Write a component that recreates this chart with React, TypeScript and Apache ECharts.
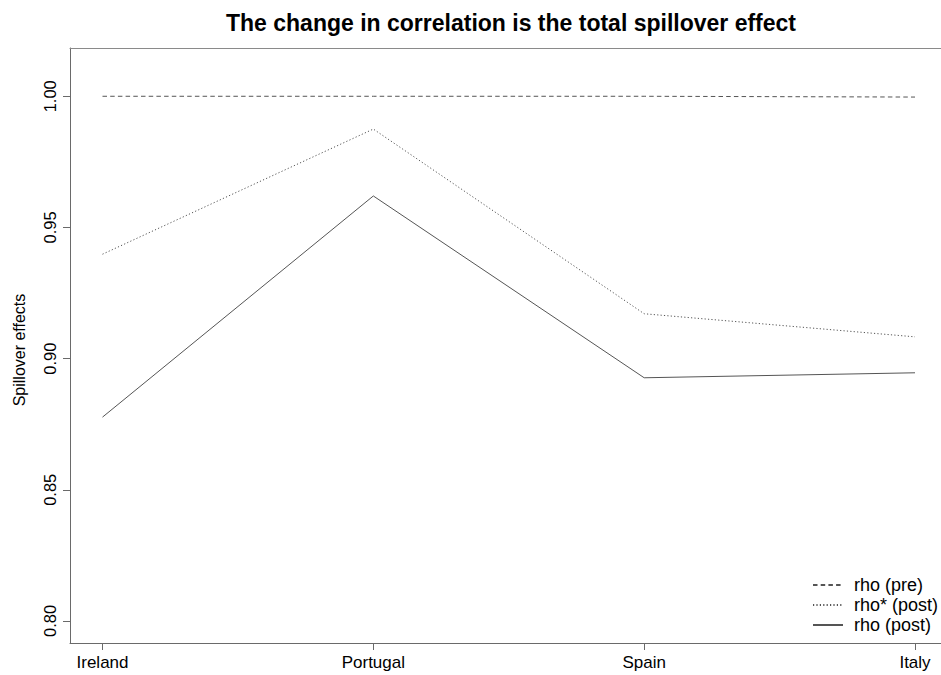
import React, { useEffect, useRef } from "react";
import * as echarts from "echarts";

const countries = ["Ireland", "Portugal", "Spain", "Italy"];
const rhoPre = [1.0, 1.0, 1.0, 0.9997];
const rhoStarPost = [0.9398, 0.9875, 0.9171, 0.9083];
const rhoPost = [0.8777, 0.962, 0.8927, 0.8946];
const yTicks = [0.8, 0.85, 0.9, 0.95, 1.0];
const seriesNames = ["rho (pre)", "rho* (post)", "rho (post)"];
const titleText = "The change in correlation is the total spillover effect";
const yAxisTitle = "Spillover effects";

const FONT = "'Liberation Sans', Arial, Helvetica, sans-serif";
const AXIS_COLOR = "#6a6a6a";
const LINE_COLOR = "#555555";

export default function App() {
  const ref = useRef<HTMLDivElement>(null);
  useEffect(() => {
    if (!ref.current) return;
    const chart = echarts.init(ref.current, null, { renderer: "svg" });
    const xVals = countries.map((_, i) => i + 1);
    const mk = (arr: number[]) => arr.map((v, i) => [xVals[i], v]);
    const xMin = 0.88;
    const xMax = 4.096;
    const yMin = 0.7916;
    const yMax = 1.0184;
    const option: any = {
      animation: false,
      backgroundColor: "#ffffff",
      textStyle: { fontFamily: FONT },
      title: {
        text: titleText,
        left: 506,
        textAlign: "center",
        top: 6,
        textStyle: { fontFamily: FONT, fontSize: 23, fontWeight: "bold", color: "#000" },
      },
      grid: { left: 70, top: 48, right: 0, bottom: 32, containLabel: false },
      xAxis: [
        {
          type: "value",
          min: xMin,
          max: xMax,
          position: "bottom",
          splitLine: { show: false },
          axisLine: { show: true, lineStyle: { color: AXIS_COLOR, width: 1 } },
          axisTick: {
            show: true,
            length: 7,
            customValues: xVals,
            lineStyle: { color: AXIS_COLOR },
          },
          axisLabel: {
            show: true,
            customValues: xVals,
            margin: 11,
            fontSize: 17,
            color: "#000",
            fontFamily: FONT,
            formatter: (v: number) => countries[Math.round(v) - 1] ?? "",
          },
        },
        {
          type: "value",
          min: xMin,
          max: xMax,
          position: "top",
          splitLine: { show: false },
          axisLine: { show: true, onZero: false, lineStyle: { color: "#8a8a8a", width: 1 } },
          axisTick: { show: false },
          axisLabel: { show: false },
        },
      ],
      yAxis: {
        type: "value",
        min: yMin,
        max: yMax,
        splitLine: { show: false },
        axisLine: { show: true, lineStyle: { color: AXIS_COLOR, width: 1 } },
        axisTick: {
          show: true,
          length: 7,
          customValues: yTicks,
          lineStyle: { color: AXIS_COLOR },
        },
        axisLabel: {
          show: true,
          customValues: yTicks,
          rotate: 90,
          margin: 12,
          fontSize: 16.5,
          color: "#000",
          fontFamily: FONT,
          formatter: (v: number) => v.toFixed(2),
        },
      },
      legend: {
        show: true,
        orient: "vertical",
        left: 812,
        top: 576,
        padding: 0,
        itemWidth: 30,
        itemHeight: 14,
        itemGap: 2,
        itemStyle: { opacity: 0 },
        textStyle: {
          fontFamily: FONT,
          fontSize: 18,
          lineHeight: 14,
          color: "#000",
          padding: [0, 0, 0, 6],
        },
        data: seriesNames,
      },
      graphic: [
        {
          type: "text",
          x: 19,
          y: 350,
          rotation: Math.PI / 2,
          style: {
            text: yAxisTitle,
            fontFamily: FONT,
            fontSize: 16,
            fill: "#000",
            align: "center",
            verticalAlign: "middle",
          },
        },
      ],
      series: [
        {
          name: seriesNames[0],
          type: "line",
          xAxisIndex: 0,
          data: mk(rhoPre),
          symbol: "none",
          lineStyle: { color: LINE_COLOR, width: 1, type: [4.5, 3.2] },
          itemStyle: { color: LINE_COLOR },
        },
        {
          name: seriesNames[1],
          type: "line",
          xAxisIndex: 0,
          data: mk(rhoStarPost),
          symbol: "none",
          lineStyle: { color: LINE_COLOR, width: 1, type: [1.2, 2.2] },
          itemStyle: { color: LINE_COLOR },
        },
        {
          name: seriesNames[2],
          type: "line",
          xAxisIndex: 0,
          data: mk(rhoPost),
          symbol: "none",
          lineStyle: { color: LINE_COLOR, width: 1, type: "solid" },
          itemStyle: { color: LINE_COLOR },
        },
      ],
    };
    chart.setOption(option);
    return () => chart.dispose();
  }, []);
  return (
    <div
      ref={ref}
      style={{ position: "fixed", left: 0, top: 0, width: 941, height: 675, background: "#fff" }}
    />
  );
}
